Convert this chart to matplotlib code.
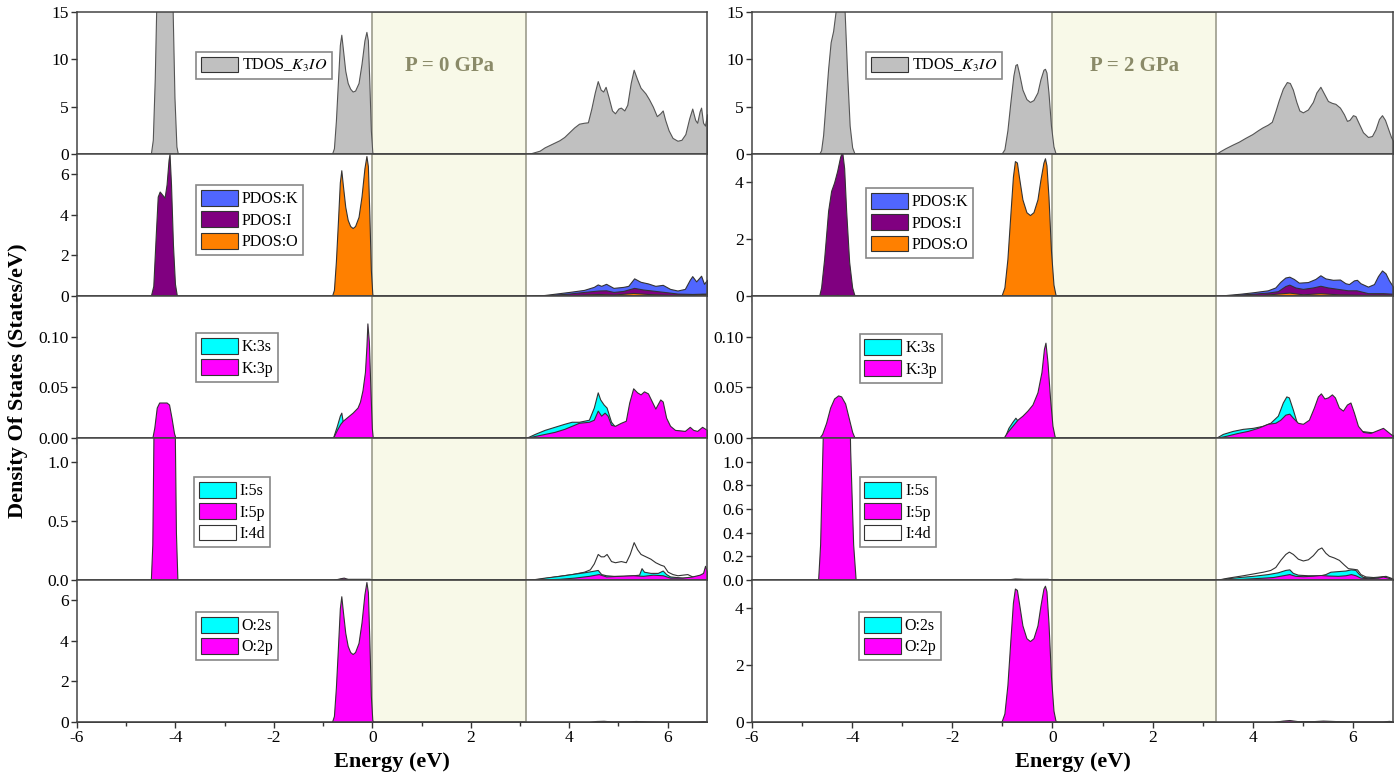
import numpy as np
import matplotlib
matplotlib.use('Agg')
import matplotlib.pyplot as plt
from matplotlib.patches import Patch
from matplotlib.ticker import MultipleLocator, FormatStrFormatter

plt.rcParams['font.family'] = ['Liberation Serif', 'DejaVu Serif']
plt.rcParams['mathtext.fontset'] = 'stix'
plt.rcParams['axes.unicode_minus'] = False

# ---------------- data: (energy eV, DOS) ----------------
# P = 0 GPa
tdos_0 = [(-6.0, 0), (-4.50, 0), (-4.46, 1.5), (-4.42, 8), (-4.38, 18), (-4.30, 28), (-4.20, 30),
          (-4.12, 28), (-4.06, 16), (-4.02, 6), (-3.98, 0.8), (-3.95, 0),
          (-0.82, 0), (-0.78, 0.6), (-0.74, 3.5), (-0.70, 7.5), (-0.66, 11.5), (-0.63, 12.6),
          (-0.60, 11.2), (-0.55, 8.8), (-0.50, 7.5), (-0.45, 6.9), (-0.40, 6.6), (-0.35, 6.7),
          (-0.28, 7.5), (-0.22, 9.5), (-0.16, 12.0), (-0.12, 12.9), (-0.09, 12.0), (-0.06, 7.5),
          (-0.03, 2.5), (0.0, 0.2), (0.02, 0),
          (3.10, 0), (3.20, 0.05), (3.30, 0.2), (3.40, 0.35), (3.50, 0.7), (3.60, 0.95), (3.70, 1.2),
          (3.80, 1.45), (3.90, 1.8), (4.00, 2.3), (4.10, 2.8), (4.20, 3.2), (4.30, 3.3), (4.38, 3.35),
          (4.45, 4.8), (4.52, 6.5), (4.58, 7.7), (4.64, 6.8), (4.69, 6.6), (4.74, 7.1), (4.80, 6.0),
          (4.87, 4.6), (4.93, 4.3), (5.00, 4.8), (5.05, 4.9), (5.12, 4.6), (5.18, 5.2), (5.25, 7.5),
          (5.31, 8.9), (5.38, 7.9), (5.45, 7.0), (5.55, 6.4), (5.62, 5.8), (5.70, 5.0), (5.78, 4.0),
          (5.85, 4.3), (5.90, 4.6), (5.95, 3.6), (6.02, 2.5), (6.10, 1.7), (6.20, 1.4), (6.28, 1.5),
          (6.36, 2.1), (6.44, 3.8), (6.50, 4.8), (6.56, 3.6), (6.60, 3.3), (6.65, 4.5), (6.68, 4.9),
          (6.72, 3.3), (6.76, 3.0), (6.80, 4.2)]

pk_0 = [(-6, 0), (-4.45, 0), (-4.3, 0.12), (-4.15, 0.15), (-4.0, 0), (-0.8, 0), (-0.6, 0.12),
        (-0.3, 0.15), (-0.1, 0.2), (0.02, 0),
        (3.12, 0), (3.5, 0.05), (4.0, 0.2), (4.3, 0.3), (4.5, 0.45), (4.58, 0.57), (4.65, 0.5),
        (4.75, 0.6), (4.9, 0.4), (5.1, 0.45), (5.2, 0.5), (5.32, 0.87), (5.45, 0.7), (5.6, 0.62),
        (5.75, 0.5), (5.9, 0.55), (6.05, 0.35), (6.2, 0.27), (6.35, 0.35), (6.45, 0.8), (6.5, 0.98),
        (6.58, 0.72), (6.68, 1.0), (6.74, 0.6), (6.8, 0.8)]
pi_0 = [(-6, 0), (-4.50, 0), (-4.45, 0.5), (-4.40, 3.0), (-4.36, 4.9), (-4.32, 5.15), (-4.27, 5.0),
        (-4.22, 4.85), (-4.18, 5.5), (-4.14, 6.7), (-4.12, 7.0), (-4.09, 5.5), (-4.05, 2.5),
        (-4.01, 0.6), (-3.97, 0),
        (-0.8, 0), (-0.6, 0.1), (-0.3, 0.05), (0.0, 0),
        (3.12, 0), (3.5, 0.03), (4.0, 0.12), (4.3, 0.2), (4.6, 0.27), (4.75, 0.28), (4.9, 0.2),
        (5.1, 0.25), (5.32, 0.4), (5.5, 0.32), (5.75, 0.25), (6.0, 0.18), (6.2, 0.12), (6.5, 0.1),
        (6.8, 0.12)]
po_0 = [(-6, 0), (-4.4, 0), (-4.25, 0.05), (-4.05, 0), (-0.82, 0), (-0.78, 0.3), (-0.74, 1.7),
        (-0.70, 3.6), (-0.66, 5.6), (-0.63, 6.2), (-0.60, 5.5), (-0.55, 4.4), (-0.50, 3.75),
        (-0.45, 3.45), (-0.40, 3.35), (-0.35, 3.45), (-0.28, 3.9), (-0.22, 4.9), (-0.16, 6.3),
        (-0.12, 6.9), (-0.09, 6.4), (-0.06, 4.0), (-0.03, 1.3), (0.0, 0.1), (0.02, 0),
        (3.12, 0), (3.5, 0.01), (4.0, 0.04), (4.6, 0.1), (4.9, 0.07), (5.3, 0.15), (5.6, 0.1),
        (6.0, 0.06), (6.5, 0.06), (6.7, 0.1), (6.8, 0.08)]

k3s_0 = [(-6, 0), (-4.45, 0), (-4.35, 0.02), (-4.2, 0.02), (-4.0, 0), (-0.80, 0), (-0.72, 0.012),
         (-0.66, 0.022), (-0.63, 0.025), (-0.60, 0.016), (-0.5, 0.01), (-0.3, 0.01), (-0.1, 0.02),
         (0.0, 0),
         (3.12, 0), (3.3, 0.004), (3.5, 0.008), (3.7, 0.011), (3.9, 0.014), (4.05, 0.016),
         (4.2, 0.016), (4.4, 0.018), (4.5, 0.03), (4.58, 0.045), (4.63, 0.038), (4.7, 0.033),
         (4.76, 0.03), (4.85, 0.016), (4.95, 0.01), (5.2, 0.01), (5.5, 0.01), (6.0, 0.008), (6.8, 0.005)]
k3p_0 = [(-6, 0), (-4.47, 0), (-4.43, 0.01), (-4.38, 0.03), (-4.33, 0.035), (-4.25, 0.035),
         (-4.18, 0.035), (-4.13, 0.033), (-4.08, 0.02), (-4.03, 0.005), (-4.0, 0),
         (-0.80, 0), (-0.72, 0.008), (-0.65, 0.014), (-0.60, 0.017), (-0.5, 0.021), (-0.4, 0.025),
         (-0.3, 0.03), (-0.25, 0.036), (-0.2, 0.047), (-0.15, 0.065), (-0.12, 0.09), (-0.10, 0.113),
         (-0.07, 0.095), (-0.04, 0.05), (-0.01, 0.01), (0.01, 0),
         (3.12, 0), (3.3, 0.002), (3.5, 0.004), (3.7, 0.006), (3.9, 0.009), (4.05, 0.012),
         (4.2, 0.015), (4.4, 0.016), (4.5, 0.018), (4.58, 0.027), (4.65, 0.022), (4.72, 0.025),
         (4.78, 0.022), (4.85, 0.013), (4.93, 0.012), (5.05, 0.015), (5.15, 0.017), (5.22, 0.035),
         (5.3, 0.049), (5.38, 0.045), (5.45, 0.043), (5.52, 0.046), (5.6, 0.044), (5.68, 0.036),
         (5.75, 0.029), (5.85, 0.038), (5.9, 0.036), (5.97, 0.02), (6.05, 0.012), (6.15, 0.008),
         (6.35, 0.007), (6.45, 0.011), (6.52, 0.008), (6.6, 0.007), (6.7, 0.011), (6.8, 0.008)]

i4d_0 = [(-6, 0), (-4.45, 0), (-4.3, 0.2), (-4.1, 0.2), (-3.99, 0), (-0.8, 0), (-0.7, 0.01),
         (-0.3, 0.01), (-0.05, 0.01), (0.0, 0),
         (3.12, 0), (3.4, 0.01), (3.7, 0.03), (4.05, 0.05), (4.3, 0.07), (4.42, 0.09), (4.5, 0.14),
         (4.58, 0.22), (4.64, 0.2), (4.7, 0.2), (4.76, 0.22), (4.85, 0.16), (4.93, 0.15),
         (5.05, 0.16), (5.15, 0.15), (5.23, 0.22), (5.31, 0.32), (5.38, 0.26), (5.45, 0.22),
         (5.55, 0.2), (5.65, 0.18), (5.75, 0.15), (5.85, 0.13), (5.92, 0.12), (6.0, 0.07),
         (6.1, 0.05), (6.2, 0.04), (6.4, 0.05), (6.5, 0.03), (6.6, 0.03), (6.7, 0.05), (6.8, 0.06)]
i5s_0 = [(-6, 0), (-4.45, 0), (-4.3, 0.1), (-4.1, 0.1), (-3.99, 0), (-0.8, 0), (-0.6, 0.005), (0, 0),
         (3.12, 0), (3.3, 0.008), (3.5, 0.02), (3.8, 0.035), (4.05, 0.05), (4.3, 0.065),
         (4.45, 0.075), (4.58, 0.085), (4.65, 0.05), (4.75, 0.04), (4.9, 0.035), (5.1, 0.035),
         (5.3, 0.04), (5.42, 0.045), (5.47, 0.1), (5.52, 0.07), (5.65, 0.06), (5.8, 0.06),
         (5.9, 0.08), (5.97, 0.05), (6.05, 0.03), (6.3, 0.02), (6.6, 0.02), (6.8, 0.02)]
i5p_0 = [(-6, 0), (-4.50, 0), (-4.47, 0.3), (-4.44, 1.5), (-4.40, 2.5), (-4.3, 2.8), (-4.2, 2.8),
         (-4.1, 2.6), (-4.02, 1.5), (-3.99, 0.4), (-3.96, 0),
         (-0.75, 0), (-0.65, 0.015), (-0.58, 0.02), (-0.5, 0.008), (-0.3, 0.005), (0, 0),
         (3.12, 0), (3.4, 0.004), (3.8, 0.01), (4.1, 0.02), (4.4, 0.035), (4.6, 0.05), (4.75, 0.03),
         (5.0, 0.035), (5.3, 0.04), (5.5, 0.035), (5.7, 0.045), (5.9, 0.04), (6.05, 0.02),
         (6.3, 0.02), (6.5, 0.03), (6.65, 0.045), (6.72, 0.06), (6.76, 0.12), (6.8, 0.07)]

o2s_0 = [(-6, 0), (-0.8, 0), (-0.4, 0.02), (0.0, 0), (6.8, 0)]
o2p_0 = [(-6, 0), (-0.82, 0), (-0.78, 0.3), (-0.74, 1.7), (-0.70, 3.6), (-0.66, 5.6), (-0.63, 6.2),
         (-0.60, 5.5), (-0.55, 4.4), (-0.50, 3.75), (-0.45, 3.45), (-0.40, 3.35), (-0.35, 3.45),
         (-0.28, 3.9), (-0.22, 4.9), (-0.16, 6.3), (-0.12, 6.9), (-0.09, 6.4), (-0.06, 4.0),
         (-0.03, 1.3), (0.0, 0.1), (0.02, 0),
         (4.4, 0), (4.55, 0.05), (4.7, 0.06), (4.85, 0.03), (5.2, 0.03), (5.35, 0.05), (5.6, 0.03),
         (5.9, 0.02), (6.6, 0.02), (6.72, 0.04), (6.8, 0.02)]

# P = 2 GPa
tdos_2 = [(-6, 0), (-4.66, 0), (-4.62, 0.4), (-4.58, 2.0), (-4.53, 5.5), (-4.48, 9.0), (-4.43, 11.8),
          (-4.38, 13.0), (-4.32, 15.5), (-4.25, 19), (-4.2, 19), (-4.15, 15), (-4.10, 8.5),
          (-4.05, 3.0), (-4.0, 0.7), (-3.95, 0),
          (-1.02, 0), (-0.96, 0.5), (-0.90, 2.5), (-0.84, 5.5), (-0.78, 8.3), (-0.74, 9.4),
          (-0.71, 9.5), (-0.67, 8.6), (-0.60, 6.8), (-0.52, 5.8), (-0.45, 5.5), (-0.38, 5.7),
          (-0.30, 6.5), (-0.24, 7.9), (-0.18, 8.9), (-0.15, 9.0), (-0.12, 8.6), (-0.08, 6.5),
          (-0.03, 3.0), (0.02, 0.8), (0.06, 0.1), (0.1, 0),
          (3.26, 0), (3.35, 0.3), (3.45, 0.6), (3.6, 1.0), (3.72, 1.3), (3.85, 1.7), (3.99, 2.1),
          (4.1, 2.5), (4.19, 2.8), (4.3, 3.1), (4.38, 3.4), (4.45, 4.5), (4.52, 5.7), (4.6, 6.9),
          (4.68, 7.6), (4.74, 7.5), (4.8, 6.8), (4.87, 5.5), (4.93, 4.6), (5.0, 4.4), (5.1, 4.7),
          (5.2, 5.5), (5.27, 6.5), (5.35, 7.1), (5.42, 6.4), (5.5, 5.6), (5.58, 5.4), (5.65, 5.3),
          (5.74, 4.9), (5.82, 4.2), (5.88, 3.5), (5.93, 3.6), (6.0, 4.1), (6.05, 4.0), (6.12, 3.2),
          (6.2, 2.3), (6.3, 1.8), (6.38, 1.9), (6.45, 2.6), (6.52, 3.7), (6.58, 4.1), (6.64, 3.6),
          (6.7, 2.7), (6.76, 1.8), (6.8, 1.4)]

pk_2 = [(-6, 0), (-4.6, 0), (-4.3, 0.1), (-4.0, 0), (-1.0, 0), (-0.7, 0.1), (-0.15, 0.15), (0.05, 0),
        (3.26, 0), (3.5, 0.04), (3.75, 0.08), (4.0, 0.13), (4.3, 0.2), (4.45, 0.3), (4.55, 0.5),
        (4.65, 0.65), (4.73, 0.68), (4.82, 0.6), (4.92, 0.47), (5.1, 0.49), (5.25, 0.6),
        (5.35, 0.73), (5.45, 0.62), (5.6, 0.57), (5.74, 0.58), (5.85, 0.45), (5.92, 0.42),
        (6.02, 0.55), (6.08, 0.57), (6.15, 0.45), (6.3, 0.33), (6.42, 0.42), (6.5, 0.7),
        (6.58, 0.9), (6.65, 0.8), (6.72, 0.55), (6.8, 0.33)]
pi_2 = [(-6, 0), (-4.66, 0), (-4.62, 0.3), (-4.56, 1.3), (-4.48, 3.0), (-4.42, 3.7), (-4.36, 4.0),
        (-4.3, 4.4), (-4.24, 4.9), (-4.2, 5.1), (-4.16, 4.5), (-4.12, 3.0), (-4.06, 1.2),
        (-4.0, 0.3), (-3.95, 0),
        (-1.0, 0), (-0.7, 0.05), (-0.3, 0.03), (0.05, 0),
        (3.26, 0), (3.5, 0.02), (4.0, 0.08), (4.3, 0.12), (4.5, 0.17), (4.65, 0.35), (4.73, 0.4),
        (4.85, 0.3), (5.0, 0.25), (5.2, 0.3), (5.35, 0.36), (5.5, 0.3), (5.7, 0.25), (5.9, 0.2),
        (6.07, 0.2), (6.3, 0.1), (6.6, 0.1), (6.8, 0.08)]
po_2 = [(-6, 0), (-4.5, 0), (-4.3, 0.04), (-4.05, 0), (-1.02, 0), (-0.96, 0.3), (-0.90, 1.3),
        (-0.84, 2.9), (-0.79, 4.2), (-0.75, 4.75), (-0.71, 4.7), (-0.67, 4.2), (-0.60, 3.4),
        (-0.52, 2.95), (-0.45, 2.85), (-0.38, 2.95), (-0.30, 3.4), (-0.24, 4.1), (-0.18, 4.7),
        (-0.15, 4.85), (-0.12, 4.6), (-0.08, 3.5), (-0.03, 1.6), (0.02, 0.4), (0.06, 0.05), (0.1, 0),
        (3.26, 0), (3.6, 0.01), (4.2, 0.04), (4.73, 0.12), (5.0, 0.06), (5.35, 0.1), (5.7, 0.06),
        (6.2, 0.04), (6.6, 0.05), (6.8, 0.03)]

k3s_2 = [(-6, 0), (-4.6, 0), (-4.3, 0.02), (-4.0, 0), (-0.96, 0), (-0.88, 0.01), (-0.8, 0.016),
         (-0.74, 0.02), (-0.68, 0.016), (-0.6, 0.012), (-0.3, 0.01), (0.0, 0.005), (0.05, 0),
         (3.26, 0), (3.4, 0.004), (3.6, 0.007), (3.8, 0.009), (4.0, 0.01), (4.2, 0.012),
         (4.35, 0.015), (4.5, 0.022), (4.6, 0.035), (4.67, 0.041), (4.72, 0.04), (4.8, 0.028),
         (4.88, 0.015), (5.0, 0.01), (5.5, 0.01), (6.0, 0.008), (6.8, 0.003)]
k3p_2 = [(-6, 0), (-4.66, 0), (-4.6, 0.004), (-4.52, 0.015), (-4.44, 0.03), (-4.36, 0.039),
         (-4.28, 0.042), (-4.22, 0.041), (-4.14, 0.034), (-4.06, 0.018), (-4.0, 0.006), (-3.95, 0),
         (-0.98, 0), (-0.9, 0.006), (-0.8, 0.012), (-0.7, 0.018), (-0.6, 0.022), (-0.5, 0.027),
         (-0.4, 0.033), (-0.3, 0.045), (-0.22, 0.065), (-0.17, 0.088), (-0.14, 0.094), (-0.1, 0.075),
         (-0.05, 0.04), (0.0, 0.012), (0.05, 0),
         (3.26, 0), (3.45, 0.002), (3.7, 0.005), (3.9, 0.007), (4.1, 0.01), (4.3, 0.014),
         (4.45, 0.015), (4.55, 0.018), (4.65, 0.023), (4.73, 0.024), (4.8, 0.02), (4.9, 0.015),
         (5.0, 0.014), (5.12, 0.018), (5.22, 0.03), (5.3, 0.041), (5.36, 0.044), (5.43, 0.039),
         (5.5, 0.04), (5.58, 0.043), (5.64, 0.04), (5.72, 0.03), (5.8, 0.027), (5.88, 0.033),
         (5.95, 0.035), (6.02, 0.025), (6.1, 0.012), (6.2, 0.006), (6.35, 0.005), (6.5, 0.008),
         (6.6, 0.01), (6.7, 0.006), (6.8, 0.002)]

i4d_2 = [(-6, 0), (-4.6, 0), (-4.3, 0.2), (-4.0, 0), (-1.0, 0), (-0.8, 0.01), (-0.1, 0.01), (0.05, 0),
         (3.26, 0), (3.5, 0.02), (3.8, 0.04), (4.0, 0.055), (4.2, 0.07), (4.35, 0.085), (4.45, 0.11),
         (4.55, 0.17), (4.65, 0.22), (4.72, 0.24), (4.8, 0.22), (4.9, 0.18), (5.0, 0.165),
         (5.1, 0.175), (5.2, 0.21), (5.3, 0.26), (5.37, 0.275), (5.45, 0.23), (5.52, 0.205),
         (5.62, 0.19), (5.72, 0.17), (5.82, 0.13), (5.9, 0.1), (6.0, 0.095), (6.08, 0.09),
         (6.15, 0.05), (6.25, 0.03), (6.4, 0.025), (6.55, 0.03), (6.65, 0.035), (6.75, 0.02), (6.8, 0.01)]
i5s_2 = [(-6, 0), (-4.6, 0), (-4.3, 0.1), (-4.0, 0), (-1.0, 0), (-0.7, 0.005), (0.05, 0),
         (3.26, 0), (3.5, 0.015), (3.8, 0.028), (4.0, 0.035), (4.3, 0.05), (4.5, 0.065),
         (4.65, 0.085), (4.73, 0.09), (4.8, 0.06), (4.9, 0.045), (5.1, 0.04), (5.35, 0.04),
         (5.45, 0.05), (5.55, 0.07), (5.7, 0.075), (5.85, 0.08), (5.96, 0.09), (6.05, 0.085),
         (6.12, 0.05), (6.2, 0.025), (6.4, 0.02), (6.6, 0.03), (6.8, 0.005)]
i5p_2 = [(-6, 0), (-4.68, 0), (-4.64, 0.3), (-4.6, 1.0), (-4.54, 2.0), (-4.45, 3.2), (-4.35, 4.2),
         (-4.25, 4.8), (-4.18, 4.0), (-4.1, 2.5), (-4.04, 1.1), (-3.98, 0.3), (-3.93, 0),
         (-0.9, 0), (-0.75, 0.012), (-0.65, 0.01), (-0.4, 0.003), (0.05, 0),
         (3.26, 0), (3.5, 0.005), (3.8, 0.01), (4.1, 0.017), (4.4, 0.025), (4.6, 0.04), (4.73, 0.05),
         (4.85, 0.035), (5.0, 0.032), (5.2, 0.036), (5.35, 0.042), (5.5, 0.038), (5.7, 0.035),
         (5.85, 0.04), (5.96, 0.05), (6.05, 0.04), (6.15, 0.02), (6.3, 0.015), (6.5, 0.02),
         (6.6, 0.03), (6.7, 0.02), (6.8, 0.005)]

o2s_2 = [(-6, 0), (-1.0, 0), (-0.5, 0.015), (0.05, 0), (6.8, 0)]
o2p_2 = [(-6, 0), (-1.02, 0), (-0.96, 0.3), (-0.90, 1.3), (-0.84, 2.9), (-0.79, 4.2), (-0.75, 4.7),
         (-0.71, 4.65), (-0.67, 4.2), (-0.60, 3.4), (-0.52, 2.95), (-0.45, 2.85), (-0.38, 2.95),
         (-0.30, 3.4), (-0.24, 4.1), (-0.18, 4.7), (-0.15, 4.8), (-0.12, 4.6), (-0.08, 3.5),
         (-0.03, 1.6), (0.02, 0.4), (0.06, 0.05), (0.1, 0),
         (4.4, 0), (4.6, 0.05), (4.73, 0.07), (4.9, 0.03), (5.2, 0.03), (5.4, 0.05), (5.7, 0.03),
         (6.0, 0.02), (6.6, 0.02), (6.72, 0.04), (6.8, 0.02)]

pressure_labels = ['P = 0 GPa', 'P = 2 GPa']
gap_edges = [3.12, 3.26]

panel_labels = [
    [r'TDOS_$K_3IO$'],
    ['PDOS:K', 'PDOS:I', 'PDOS:O'],
    ['K:3s', 'K:3p'],
    ['I:5s', 'I:5p', 'I:4d'],
    ['O:2s', 'O:2p'],
]
panel_colors = [
    ['#c0c0c0'],
    ['#5066ff', '#800080', '#ff8000'],
    ['#00ffff', '#ff00ff'],
    ['#00ffff', '#ff00ff', '#ffffff'],
    ['#00ffff', '#ff00ff'],
]
# curves in legend order, for each pressure
curves = [
    [[tdos_0], [pk_0, pi_0, po_0], [k3s_0, k3p_0], [i5s_0, i5p_0, i4d_0], [o2s_0, o2p_0]],
    [[tdos_2], [pk_2, pi_2, po_2], [k3s_2, k3p_2], [i5s_2, i5p_2, i4d_2], [o2s_2, o2p_2]],
]
# drawing order (back to front) inside each panel
draw_order = [[0], [0, 1, 2], [0, 1], [2, 0, 1], [0, 1]]

# (ymin, ymax, tick step, last labelled tick, format)
ylims = [
    [(0, 15, 5, 15, '%d'), (0, 7, 2, 6, '%d'), (0, 0.14, 0.05, 0.10, '%.2f'),
     (0, 1.2, 0.5, 1.0, '%.1f'), (0, 7, 2, 6, '%d')],
    [(0, 15, 5, 15, '%d'), (0, 5, 2, 4, '%d'), (0, 0.14, 0.05, 0.10, '%.2f'),
     (0, 1.2, 0.2, 1.0, '%.1f'), (0, 5, 2, 4, '%d')],
]
legend_pos = [
    [(0.189, 0.72), (0.189, 0.78), (0.189, 0.737), (0.186, 0.725), (0.189, 0.775)],
    [(0.178, 0.72), (0.178, 0.76), (0.168, 0.73), (0.168, 0.725), (0.167, 0.775)],
]

W, H = 1396, 784
fig = plt.figure(figsize=(W / 100, H / 100), dpi=100)

columns = [(77, 630), (752, 641)]
panel_h = 142
edge = '#333333'

for col, (left, width) in enumerate(columns):
    for row in range(5):
        top = 12 + row * panel_h
        ax = fig.add_axes([left / W, 1 - (top + panel_h) / H, width / W, panel_h / H])
        ax.axvspan(0, gap_edges[col], facecolor='#f8f9e8', edgecolor='#9c9c8c', linewidth=1.2, zorder=0.5)

        for k in draw_order[row]:
            pts = np.array(curves[col][row][k])
            fc = panel_colors[row][k]
            ec = '#555555' if row == 0 else edge
            ax.fill_between(pts[:, 0], 0, pts[:, 1], facecolor=fc, edgecolor=ec, linewidth=0.8, zorder=2)

        y0, y1, step, ytop, fmt = ylims[col][row]
        ax.set_xlim(-6, 6.8)
        ax.set_ylim(y0, y1)
        ax.set_yticks(np.arange(y0, ytop + step / 10, step))
        ax.yaxis.set_major_formatter(FormatStrFormatter(fmt))
        ax.xaxis.set_major_locator(MultipleLocator(2))
        ax.xaxis.set_minor_locator(MultipleLocator(1))
        ax.tick_params(axis='both', which='major', direction='out', length=4, width=1,
                       labelsize=12.5, color='#333333', pad=2)
        ax.tick_params(axis='x', which='minor', direction='out', length=3, width=1, color='#333333')
        ax.tick_params(axis='x', labelbottom=(row == 4))
        for sp in ax.spines.values():
            sp.set_color('#444444')
            sp.set_linewidth(1.1)

        handles = [Patch(facecolor=c, edgecolor=edge, linewidth=0.8) for c in panel_colors[row]]
        leg = ax.legend(handles, panel_labels[row], loc='upper left',
                        bbox_to_anchor=legend_pos[col][row], borderaxespad=0,
                        fontsize=11.5, handlelength=2.3, handleheight=1.15,
                        handletextpad=0.25, labelspacing=0.25, borderpad=0.3,
                        fancybox=False, framealpha=1)
        leg.get_frame().set_edgecolor('#888888')
        leg.get_frame().set_linewidth(1.2)
        leg.set_zorder(5)

        if row == 0:
            ax.text(gap_edges[col] / 2, 9.3, pressure_labels[col], ha='center', va='center',
                    fontsize=15, fontweight='bold', color='#8a8a68', zorder=3)
        if row == 4:
            ax.set_xlabel('Energy (eV)', fontsize=16, fontweight='bold', labelpad=4)

fig.text(0.013, 0.515, 'Density Of States (States/eV)', rotation=90, ha='center', va='center',
         fontsize=16, fontweight='bold')

fig.savefig('out.png', dpi=100)
